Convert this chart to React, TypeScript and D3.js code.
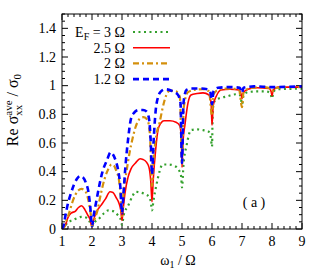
import React from "react";
import * as d3 from "d3";

type P = [number, number];

const xTicks = [1, 2, 3, 4, 5, 6, 7, 8, 9];
const yTicks = [0, 0.2, 0.4, 0.6, 0.8, 1, 1.2, 1.4];
const yTickLabels = ["0", "0.2", "0.4", "0.6", "0.8", "1", "1.2", "1.4"];
const legendLabels = ["3 Ω", "2.5 Ω", "2 Ω", "1.2 Ω"];

const ef3: P[] = [
  [1.0, 0], [1.1, 0.02], [1.2, 0.05], [1.35, 0.06], [1.5, 0.075], [1.65, 0.085], [1.8, 0.08], [1.9, 0.06],
  [2.0, 0.02], [2.1, 0.05], [2.25, 0.075], [2.4, 0.11], [2.55, 0.13], [2.7, 0.125], [2.85, 0.1], [2.95, 0.07],
  [3.0, 0.03], [3.06, 0.1], [3.2, 0.16], [3.35, 0.23], [3.45, 0.26], [3.6, 0.255], [3.75, 0.245], [3.9, 0.225], [3.96, 0.19],
  [4.0, 0.13], [4.05, 0.2], [4.15, 0.31], [4.25, 0.4], [4.35, 0.45], [4.55, 0.45], [4.75, 0.44], [4.9, 0.41], [4.97, 0.37],
  [5.0, 0.29], [5.05, 0.45], [5.15, 0.58], [5.3, 0.69], [5.5, 0.695], [5.7, 0.69], [5.88, 0.68], [5.96, 0.64],
  [6.0, 0.575], [6.02, 0.78], [6.05, 0.87], [6.12, 0.9], [6.3, 0.915], [6.5, 0.925], [6.8, 0.94], [6.95, 0.93],
  [7.0, 0.87], [7.05, 0.93], [7.2, 0.955], [7.5, 0.96], [7.8, 0.96], [7.95, 0.945],
  [8.0, 0.91], [8.05, 0.96], [8.2, 0.975], [8.6, 0.978], [9.0, 0.98],
];

const ef25: P[] = [
  [1.0, 0], [1.1, 0.02], [1.2, 0.08], [1.3, 0.11], [1.45, 0.125], [1.55, 0.15], [1.65, 0.162], [1.75, 0.14], [1.85, 0.1], [1.93, 0.07],
  [2.0, 0.015], [2.05, 0.06], [2.15, 0.12], [2.3, 0.165], [2.45, 0.21], [2.6, 0.26], [2.7, 0.255], [2.8, 0.22], [2.9, 0.18], [2.96, 0.13],
  [3.0, 0.06], [3.04, 0.14], [3.1, 0.25], [3.2, 0.36], [3.3, 0.42], [3.45, 0.46], [3.6, 0.49], [3.7, 0.485], [3.8, 0.47], [3.9, 0.43], [3.96, 0.33],
  [4.0, 0.19], [4.04, 0.34], [4.12, 0.55], [4.2, 0.69], [4.3, 0.74], [4.4, 0.755], [4.6, 0.755], [4.8, 0.745], [4.93, 0.72], [4.98, 0.62],
  [5.0, 0.43], [5.03, 0.6], [5.1, 0.73], [5.2, 0.88], [5.3, 0.935], [5.5, 0.945], [5.7, 0.95], [5.9, 0.935], [5.97, 0.88],
  [6.0, 0.725], [6.04, 0.86], [6.15, 0.93], [6.3, 0.97], [6.6, 0.975], [6.9, 0.97], [6.97, 0.94],
  [7.0, 0.91], [7.04, 0.95], [7.2, 0.975], [7.5, 0.985], [7.9, 0.98], [7.97, 0.96],
  [8.0, 0.93], [8.04, 0.97], [8.2, 0.99], [8.6, 0.99], [9.0, 0.99],
];

const ef2: P[] = [
  [1.0, 0], [1.06, 0.01], [1.15, 0.06], [1.25, 0.12], [1.35, 0.19], [1.45, 0.24], [1.55, 0.27], [1.65, 0.28], [1.75, 0.27], [1.83, 0.24], [1.9, 0.18], [1.96, 0.1],
  [2.0, 0.02], [2.07, 0.06], [2.17, 0.12], [2.3, 0.25], [2.42, 0.35], [2.55, 0.42], [2.65, 0.45], [2.72, 0.445], [2.82, 0.4], [2.9, 0.34], [2.96, 0.22],
  [3.0, 0.09], [3.05, 0.25], [3.15, 0.4], [3.25, 0.53], [3.35, 0.63], [3.45, 0.71], [3.6, 0.77], [3.72, 0.78], [3.85, 0.76], [3.93, 0.66],
  [4.0, 0.3], [4.06, 0.5], [4.15, 0.66], [4.25, 0.74], [4.35, 0.84], [4.45, 0.92], [4.6, 0.965], [4.8, 0.96], [4.93, 0.92],
  [5.0, 0.45], [5.06, 0.85], [5.2, 0.955], [5.4, 0.97], [5.7, 0.975], [5.9, 0.96],
  [6.0, 0.79], [6.05, 0.94], [6.2, 0.97], [6.5, 0.98], [6.9, 0.975],
  [7.0, 0.85], [7.05, 0.95], [7.3, 0.985], [7.7, 0.99], [7.95, 0.98],
  [8.0, 0.96], [8.05, 0.98], [8.5, 0.99], [9.0, 0.99],
];

const ef12: P[] = [
  [1.0, 0], [1.05, 0.02], [1.12, 0.1], [1.2, 0.18], [1.3, 0.25], [1.4, 0.31], [1.5, 0.35], [1.6, 0.37], [1.7, 0.36], [1.8, 0.32], [1.88, 0.26], [1.94, 0.16],
  [2.0, 0.02], [2.06, 0.1], [2.15, 0.2], [2.25, 0.31], [2.35, 0.4], [2.5, 0.48], [2.62, 0.535], [2.7, 0.52], [2.8, 0.47], [2.88, 0.4], [2.95, 0.28],
  [3.0, 0.11], [3.05, 0.25], [3.12, 0.45], [3.2, 0.62], [3.3, 0.77], [3.4, 0.81], [3.55, 0.83], [3.7, 0.83], [3.82, 0.82], [3.9, 0.77], [3.96, 0.6],
  [4.0, 0.38], [4.05, 0.6], [4.12, 0.82], [4.2, 0.92], [4.3, 0.96], [4.45, 0.975], [4.65, 0.965], [4.85, 0.94], [4.95, 0.88],
  [5.0, 0.46], [5.05, 0.88], [5.15, 0.97], [5.3, 0.98], [5.6, 0.98], [5.85, 0.975], [5.95, 0.95],
  [6.0, 0.87], [6.05, 0.96], [6.2, 0.985], [6.6, 0.99], [6.93, 0.985],
  [7.0, 0.95], [7.05, 0.985], [7.4, 0.995], [8.0, 0.99], [9.0, 0.995],
];

const W = 316, H = 270;
const L = 62, R = 302, T = 14, B = 229;

const x = d3.scaleLinear().domain([1, 9]).range([L, R]);
const y = d3.scaleLinear().domain([0, 1.5]).range([B, T]);

const line = d3.line<P>().x(d => x(d[0])).y(d => y(d[1])).curve(d3.curveMonotoneX);

const series = [
  { data: ef3, color: "#33a02c", width: 2.2, dash: "2,3.5" },
  { data: ef25, color: "#ff0000", width: 1.6, dash: "" },
  { data: ef2, color: "#d4900c", width: 2.2, dash: "6,3,2,3" },
  { data: ef12, color: "#0000ff", width: 2.6, dash: "6,4" },
];

const font = "'Liberation Serif', 'DejaVu Serif', serif";

export default function App() {
  const xMinor = d3.range(1, 9.001, 0.2);
  const yMinor = d3.range(0, 1.5001, 0.05);
  return (
    <svg width={W} height={H} style={{ position: "absolute", left: 0, top: 0, background: "#fff" }} fontFamily={font}>
      <defs>
        <clipPath id="plotclip">
          <rect x={L} y={T} width={R - L} height={B - T} />
        </clipPath>
      </defs>
      <rect x={0} y={0} width={W} height={H} fill="#fff" />
      <g stroke="#000" strokeWidth={1}>
        {xMinor.map((v, i) => {
          const major = Math.abs(v - Math.round(v)) < 1e-6;
          const len = major ? 6 : 3;
          return (
            <g key={"xm" + i}>
              <line x1={x(v)} x2={x(v)} y1={B} y2={B - len} />
              <line x1={x(v)} x2={x(v)} y1={T} y2={T + len} />
            </g>
          );
        })}
        {yMinor.map((v, i) => {
          const major = Math.abs(v * 5 - Math.round(v * 5)) < 1e-6;
          const len = major ? 6 : 3;
          return (
            <g key={"ym" + i}>
              <line x1={L} x2={L + len} y1={y(v)} y2={y(v)} />
              <line x1={R} x2={R - len} y1={y(v)} y2={y(v)} />
            </g>
          );
        })}
      </g>
      <g clipPath="url(#plotclip)">
        {series.map((s, i) => (
          <path key={i} d={line(s.data) || ""} fill="none" stroke={s.color} strokeWidth={s.width}
            strokeDasharray={s.dash || undefined} strokeLinejoin="round" />
        ))}
      </g>
      <rect x={L} y={T} width={R - L} height={B - T} fill="none" stroke="#000" strokeWidth={1} />
      <g fontSize={14} fill="#000">
        {xTicks.map(v => (
          <text key={"xt" + v} x={x(v)} y={245.5} textAnchor="middle">{v}</text>
        ))}
        {yTicks.map((v, i) => (
          <text key={"yt" + v} x={56} y={y(v) + 4.8} textAnchor="end">{yTickLabels[i]}</text>
        ))}
      </g>
      <text x={178} y={265} textAnchor="middle" fontSize={14}>
        ω<tspan fontSize={10} dy={3}>1</tspan><tspan dy={-3}> / Ω</tspan>
      </text>
      <g transform="translate(18,110) rotate(-90)">
        <text x={0} y={0} textAnchor="middle" fontSize={16}>
          Re σ<tspan fontSize={11} dy={-6}>ave</tspan><tspan fontSize={11} dx={-15.3} dy={10}>xx</tspan><tspan dx={4.3} dy={-4}> / σ</tspan><tspan fontSize={11} dy={3}>0</tspan>
        </text>
      </g>
      <g fontSize={14}>
        {legendLabels.map((lab, i) => {
          const yy = 32 + i * 15.7;
          const s = series[i];
          return (
            <g key={"lg" + i}>
              <text x={125} y={yy + 4.8} textAnchor="end">
                {i === 0 ? (
                  <>E<tspan fontSize={10} dy={3}>F</tspan><tspan dy={-3}> = {lab}</tspan></>
                ) : lab}
              </text>
              <line x1={133} x2={170} y1={yy} y2={yy} stroke={s.color} strokeWidth={s.width}
                strokeDasharray={s.dash || undefined} />
            </g>
          );
        })}
      </g>
      <text x={254} y={207} textAnchor="middle" fontSize={14}>( a )</text>
    </svg>
  );
}
